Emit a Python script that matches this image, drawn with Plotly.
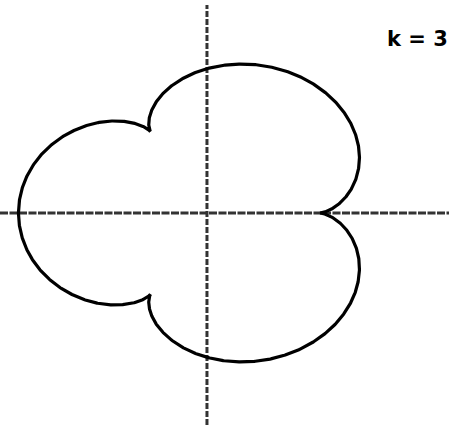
import numpy as np
import plotly.graph_objects as go

# Epicycloid parameters: k cusps, rolling circle radius r
k = 3
r = 1.0
label_text = "k = 3"

t = np.linspace(0, 2 * np.pi, 2000)
x = r * (k + 1) * np.cos(t) - r * np.cos((k + 1) * t)
y = r * (k + 1) * np.sin(t) - r * np.sin((k + 1) * t)

x_range = [-5.49, 6.42]
y_range = [-6.77, 6.80]

fig = go.Figure()

# dashed coordinate axes
fig.add_trace(go.Scatter(
    x=[x_range[0], x_range[1]], y=[0, 0], mode="lines",
    line=dict(color="#333333", width=3, dash="8px,1.5px"),
    hoverinfo="skip", showlegend=False))
fig.add_trace(go.Scatter(
    x=[0, 0], y=[y_range[0], 6.64], mode="lines",
    line=dict(color="#333333", width=3, dash="6px,2px"),
    hoverinfo="skip", showlegend=False))

# the curve
fig.add_trace(go.Scatter(
    x=x, y=y, mode="lines",
    line=dict(color="black", width=3.2),
    hoverinfo="skip", showlegend=False))

fig.add_annotation(
    x=1.0, y=1 - 39 / 425, xref="paper", yref="paper",
    text="<b>" + label_text + "</b>", showarrow=False,
    xanchor="right", yanchor="middle", xshift=1,
    font=dict(family="DejaVu Sans, sans-serif", size=21, color="black"))

fig.update_layout(
    width=449, height=425,
    margin=dict(l=0, r=0, t=0, b=0),
    paper_bgcolor="white", plot_bgcolor="white",
    xaxis=dict(range=x_range, visible=False, showgrid=False, zeroline=False),
    yaxis=dict(range=y_range, visible=False, showgrid=False, zeroline=False),
)

fig.write_html("out.html")
